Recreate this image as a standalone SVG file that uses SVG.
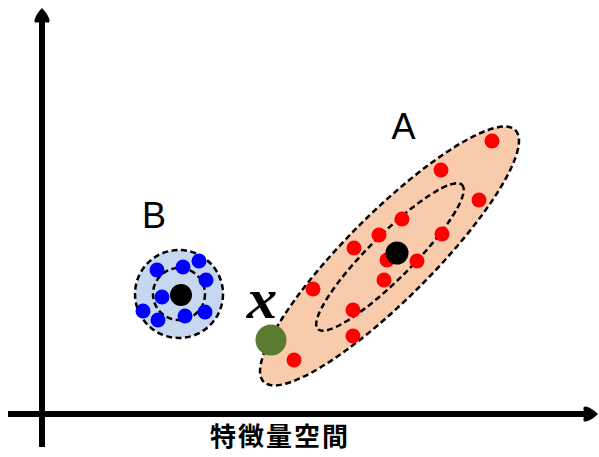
<svg xmlns="http://www.w3.org/2000/svg" width="599" height="457" viewBox="0 0 599 457">
  <style>
    .axis { stroke: #000; stroke-width: 6; fill: none; }
    .region { stroke: #000; stroke-width: 2.5; stroke-dasharray: 6 3.5; }
    .inner { fill: none; stroke: #000; stroke-width: 2.5; stroke-dasharray: 6 3.5; }
    .red { fill: #FF0000; }
    .blue { fill: #0000FF; }
    .center { fill: #000; }
    .lbl { font-family: "Liberation Sans", Arial, sans-serif; font-size: 36px; fill: #000; }
  </style>
  <defs>
    <marker id="arrow" viewBox="0 0 16 16" markerUnits="userSpaceOnUse" markerWidth="16" markerHeight="16" refX="2" refY="8" orient="auto">
      <path d="M16,8 Q10,2 4,0.5 Q1,0 1.5,3 L2,8 L1.5,13 Q1,16 4,15.5 Q10,14 16,8 Z" fill="#000"/>
    </marker>
  </defs>

  <g id="axes">
    <line class="axis" x1="42" y1="447" x2="42" y2="22" marker-end="url(#arrow)"/>
    <line class="axis" x1="8" y1="414" x2="584" y2="414" marker-end="url(#arrow)"/>
  </g>

  <g id="clusterA">
    <ellipse class="region" cx="389.5" cy="256" rx="178" ry="43" fill="#F8CBAD" transform="rotate(-45 389.5 256)"/>
    <ellipse class="inner" cx="390" cy="257" rx="102" ry="22" transform="rotate(-45 390 257)"/>
    <circle class="red" cx="492" cy="141" r="7.5"/>
    <circle class="red" cx="441" cy="170" r="7.5"/>
    <circle class="red" cx="479" cy="200" r="7.5"/>
    <circle class="red" cx="402" cy="219" r="7.5"/>
    <circle class="red" cx="379" cy="235" r="7.5"/>
    <circle class="red" cx="442" cy="234" r="7.5"/>
    <circle class="red" cx="354" cy="248" r="7.5"/>
    <circle class="red" cx="387" cy="260" r="7.5"/>
    <circle class="red" cx="417" cy="261" r="7.5"/>
    <circle class="red" cx="384" cy="280" r="7.5"/>
    <circle class="red" cx="313" cy="289" r="7.5"/>
    <circle class="red" cx="353" cy="310" r="7.5"/>
    <circle class="red" cx="353" cy="336" r="7.5"/>
    <circle class="red" cx="294" cy="360" r="7.5"/>
    <circle class="center" cx="397" cy="253" r="11.5"/>
  </g>

  <g id="clusterB">
    <circle class="region" cx="179" cy="294" r="44" fill="#C6D7EF"/>
    <circle class="inner" cx="179" cy="294" r="26"/>
    <circle class="blue" cx="157" cy="270" r="7.5"/>
    <circle class="blue" cx="183" cy="267" r="7.5"/>
    <circle class="blue" cx="199" cy="261" r="7.5"/>
    <circle class="blue" cx="206" cy="280" r="7.5"/>
    <circle class="blue" cx="162" cy="297" r="7.5"/>
    <circle class="blue" cx="143" cy="311" r="7.5"/>
    <circle class="blue" cx="158" cy="320" r="7.5"/>
    <circle class="blue" cx="185" cy="316" r="7.5"/>
    <circle class="blue" cx="205" cy="312" r="7.5"/>
    <circle class="center" cx="181" cy="295" r="11"/>
  </g>

  <g id="pointX">
    <circle cx="271" cy="340" r="15.5" fill="#5B7B30"/>
    <text x="262" y="318" font-family="Liberation Serif, 'Times New Roman', serif" font-style="italic" font-weight="bold" font-size="58" text-anchor="middle" transform="translate(262 0) scale(1.05 1) translate(-262 0)">x</text>
  </g>

  <g id="labels">
    <text class="lbl" x="403.5" y="139" text-anchor="middle">A</text>
    <text class="lbl" x="154" y="228" text-anchor="middle">B</text>
    <text x="210" y="446" font-family="'Noto Sans CJK JP', 'Noto Sans CJK SC', sans-serif" font-weight="bold" font-size="26" letter-spacing="2">特徴量空間</text>
  </g>
</svg>
